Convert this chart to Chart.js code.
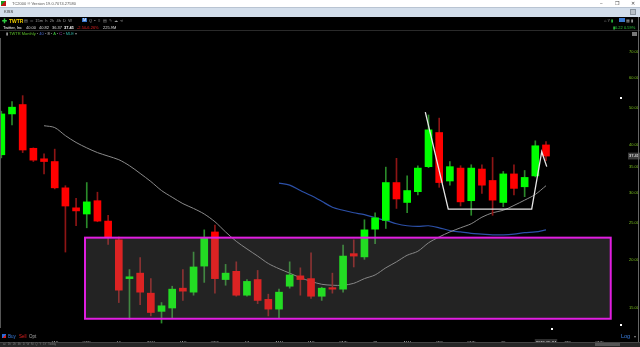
<!DOCTYPE html>
<html><head><meta charset="utf-8">
<script src="https://cdn.jsdelivr.net/npm/chart.js@4.4.1/dist/chart.umd.min.js"></script>
<style>
html,body{margin:0;padding:0;background:#000;}
#wrap{position:relative;width:640px;height:347px;overflow:hidden;background:#000;font-family:'Liberation Sans',Arial,sans-serif;}
#c{position:absolute;left:0;top:0;}
.t{position:absolute;white-space:nowrap;line-height:1;}
.b{position:absolute;}
</style></head><body>
<div id="wrap">
<canvas id="c" width="640" height="347"></canvas>
<!-- window title bar -->
<div class="b" style="left:0;top:0;width:640px;height:7px;background:#fff;"></div>
<div class="b" style="left:1px;top:1px;width:5px;height:5px;background:linear-gradient(135deg,#1a9a1a 50%,#c01818 50%);"></div>
<div class="t" style="left:12px;top:1.5px;font-size:4px;color:#555;">TC2000 ® Version 19.0.7074.27580</div>
<div class="t" style="left:600px;top:1px;font-size:5px;color:#444;">−</div>
<div class="t" style="left:615px;top:1px;font-size:5px;color:#444;">❐</div>
<div class="t" style="left:631px;top:1px;font-size:5px;color:#444;">✕</div>
<div class="b" style="left:0;top:7px;width:640px;height:10px;background:#d3deeb;border-top:1px solid #b9c4d2;box-sizing:border-box;"></div>
<div class="t" style="left:4px;top:10px;font-size:4px;color:#333;">KISS</div>
<div class="b" style="left:630px;top:9px;width:6px;height:6px;background:#b8c0c8;border:1px solid #8a949e;box-sizing:border-box;"></div>
<!-- toolbar row -->
<div class="t" style="left:2px;top:17.5px;font-size:6px;font-weight:bold;color:#2ecc40;">✚</div>
<div class="t" style="left:9px;top:18.5px;font-size:5px;font-weight:bold;color:#f2cf00;">TWTR</div>
<div class="t" style="left:24px;top:18.5px;font-size:4px;color:#9a9a9a;">▤ &nbsp;═ &nbsp;15m &nbsp;h &nbsp;2h &nbsp;4h &nbsp;D &nbsp;W</div>
<div class="t" style="left:82px;top:18px;font-size:4px;color:#fff;background:#3a78d0;padding:0 1px;">M</div>
<div class="t" style="left:89px;top:18.5px;font-size:4px;color:#9a9a9a;">Q &nbsp;▪ &nbsp;≡ &nbsp;▤ &nbsp;✎ &nbsp;☁ &nbsp;⋖</div>
<div class="t" style="left:604px;top:18.5px;font-size:4px;color:#888;">⌂ Y <span style="color:#2ecc40">▮</span></div>
<div class="b" style="left:619px;top:18px;width:6px;height:4px;background:#3a78d0;"></div>
<div class="t" style="left:626px;top:18.5px;font-size:4px;color:#aaa;">▦ ▮</div>
<!-- quote row -->
<div class="t" style="left:3px;top:25.5px;font-size:4px;color:#fff;">Twitter, Inc</div>
<div class="t" style="left:26px;top:25.5px;font-size:4px;color:#ddd;">40.00</div>
<div class="t" style="left:39px;top:25.5px;font-size:4px;color:#ddd;">40.82</div>
<div class="t" style="left:52px;top:25.5px;font-size:4px;color:#ddd;">36.37</div>
<div class="t" style="left:64px;top:25.5px;font-size:4px;color:#fff;font-weight:bold;">37.41</div>
<div class="t" style="left:77px;top:25.5px;font-size:4px;color:#e02020;">-2.50</div>
<div class="t" style="left:86px;top:25.5px;font-size:4px;color:#e02020;">-6.26%</div>
<div class="t" style="left:103px;top:25.5px;font-size:4px;color:#ddd;">225.9M</div>
<div class="t" style="left:613px;top:25.5px;font-size:4px;color:#2ecc40;">▮0.22 0.59%</div>
<div class="b" style="left:0;top:30px;width:640px;height:1px;background:#2a2a2a;"></div>
<!-- study row -->
<div class="t" style="left:6px;top:32px;font-size:4px;color:#5cc22a;"><span style="color:#aaa">▮</span> TWTR Monthly <span style="color:#888">•</span> <span style="color:#4a6fd8">40</span> <span style="color:#888">•</span> <span style="color:#ccc">8</span> <span style="color:#888">•</span> <span style="color:#3fcf3f">A</span> <span style="color:#888">•</span> <span style="color:#c040d0">C</span> <span style="color:#888">•</span> <span style="color:#2fb0a0">MLE</span> <span style="color:#888">▾</span></div>
<div class="b" style="left:632px;top:32px;width:5px;height:4px;background:#777;"></div>
<!-- frame lines -->
<div class="b" style="left:0;top:38px;width:1px;height:290px;background:#555;"></div>
<div class="b" style="left:638px;top:17px;width:1px;height:326px;background:#666;"></div>
<!-- markers -->
<div class="b" style="left:620px;top:97px;width:2px;height:2px;background:#fff;"></div>
<div class="b" style="left:620px;top:324px;width:2px;height:2px;background:#fff;"></div>
<div class="b" style="left:551px;top:328px;width:2px;height:2px;background:#fff;"></div>
<!-- bottom -->
<div class="b" style="left:2px;top:334px;width:4px;height:4px;background:linear-gradient(135deg,#2a6ad8 50%,#d02020 50%);"></div>
<div class="t" style="left:8px;top:334.5px;font-size:4.5px;color:#3a7ee0;">Buy</div>
<div class="t" style="left:19px;top:334.5px;font-size:4.5px;color:#e02020;">Sell</div>
<div class="t" style="left:29px;top:334.5px;font-size:4.5px;color:#aaa;">Opt</div>
<div class="t" style="left:621px;top:334px;font-size:5.5px;color:#3a7ee0;">Log</div>
<div class="t" style="left:634px;top:334.5px;font-size:4px;color:#888;">▾</div>
<div class="b" style="left:0;top:342px;width:640px;height:5px;background:#262626;border-top:1px solid #444;box-sizing:border-box;"></div>
<div class="t" style="left:3px;top:343px;font-size:3px;color:#777;">⊟ &nbsp;1h &nbsp;2h &nbsp;4h &nbsp;D &nbsp;W &nbsp;M &nbsp;Q &nbsp;Y &nbsp;5Y &nbsp;Today</div>
<div class="b" style="left:595px;top:343px;width:25px;height:3px;background:#555;"></div>
</div>
<script>
const months = ['2015-02','2015-03','2015-04','2015-05','2015-06','2015-07','2015-08','2015-09','2015-10','2015-11','2015-12',
'2016-01','2016-02','2016-03','2016-04','2016-05','2016-06','2016-07','2016-08','2016-09','2016-10','2016-11','2016-12',
'2017-01','2017-02','2017-03','2017-04','2017-05','2017-06','2017-07','2017-08','2017-09','2017-10','2017-11','2017-12',
'2018-01','2018-02','2018-03','2018-04','2018-05','2018-06','2018-07','2018-08','2018-09','2018-10','2018-11','2018-12',
'2019-01','2019-02','2019-03','2019-04','2019-05'];
const openP = [37.7,48.2,51.0,39.2,36.8,36.2,30.9,27.4,26.4,28.6,25.3,
22.6,17.9,18.5,16.4,14.7,15.0,16.9,16.5,19.3,23.7,17.8,18.7,
16.2,17.8,15.8,14.9,17.1,18.2,17.9,16.1,16.95,16.8,20.8,20.4,
24.1,25.4,31.9,28.3,30.2,35.1,43.1,32.2,34.8,28.6,34.6,32.3,
28.3,33.6,31.1,33.2,40.00];
const highP = [49.0,51.9,53.8,39.3,37.9,39.0,31.3,29.0,31.9,30.1,26.2,
23.0,18.9,20.3,17.9,15.5,17.1,18.9,21.0,24.0,24.7,19.5,19.8,
17.8,18.8,16.3,16.8,19.8,19.1,20.9,17.0,18.5,21.9,22.6,25.5,
26.6,35.0,36.9,33.2,35.3,47.9,47.0,36.2,35.3,35.5,35.5,37.1,
34.1,35.5,34.3,41.0,40.82];
const lowP = [37.0,45.1,38.2,36.2,33.6,30.7,21.0,24.6,24.3,25.2,22.0,
15.5,14.0,15.3,14.3,13.7,14.1,15.7,16.2,17.5,16.4,17.2,16.1,
16.1,15.4,14.3,14.1,16.9,16.2,15.9,15.7,16.4,16.5,19.2,20.1,
22.1,24.2,27.3,26.6,29.6,34.9,31.0,31.4,27.7,26.2,29.9,26.2,
27.6,29.6,29.3,33.0,36.37];
const closeP = [48.2,50.2,38.8,36.5,36.2,30.9,27.7,26.9,28.4,25.3,23.0,
16.7,18.1,16.5,14.6,15.2,16.8,16.6,19.2,22.9,17.9,18.5,16.2,
17.6,15.7,14.9,16.5,18.3,17.8,16.1,16.9,16.8,20.5,20.5,24.0,
25.8,31.9,28.9,30.4,34.8,43.8,31.9,35.1,28.4,34.8,31.4,28.7,
33.6,30.8,32.9,39.8,37.41];
const maShort = [null,null,null,null,44.9,44.4,42.3,40.6,39.3,38.2,37.4,
36.6,35.3,33.7,32.1,30.4,29.2,28.1,27.3,26.4,25.2,23.7,22.4,
21.4,20.5,19.6,19.0,18.5,18.0,17.6,17.3,17.2,17.2,17.4,17.9,
18.3,19.1,19.8,20.6,21.1,22.2,23.0,23.7,24.3,24.9,25.9,26.6,
27.0,27.8,28.7,29.7,31.3];
const maLong = [null,null,null,null,null,null,null,null,null,null,null,
null,null,null,null,null,null,null,null,null,null,null,null,
null,null,null,31.8,31.4,30.4,29.5,28.5,27.5,27.0,26.6,26.3,
25.8,25.4,24.9,24.6,24.5,24.6,24.3,23.9,23.7,23.5,23.4,23.3,
23.3,23.4,23.6,23.7,24.0];
const priceTicks = [15,20,25,30,35,40,50,60,70];
const lastClose = 37.41;
const quarterTicks = ['2015-07','2015-10','2016-01','2016-04','2016-07','2016-10','2017-01','2017-04','2017-07','2017-10','2018-01','2018-04','2018-07','2018-10','2019-01','2019-05','2019-07','2019-10'];
const quarterLabels = ['JAS','OND',['16','2016'],'AMJ','JAS','OND',['17','2017'],'AMJ','JAS','OND',['18','2018'],'AMJ','JAS','OND',['19','2019'],'2019-05-24','JAS','OND'];
// cup & handle drawing (time in months since Jan 2016, price)
const cupT = [28.7,30.85,38.66,39.6,40.07];
const cupP = [48.7,27.2,27.2,38.4,35.1];
// highlighted base zone
const zoneT = [-3.165,46.06];
const zoneP = [14.06,22.9];

function mIndex(s){const p=s.split('-').map(Number);return (p[0]-2016)*12+(p[1]-1);}
const tickVals = quarterTicks.map(mIndex);
const FONT = 'Liberation Sans';

const zonePlugin = {
  id:'zone',
  afterDatasetsDraw(chart){
    const {ctx, scales:{x,y}} = chart;
    const x0=x.getPixelForValue(zoneT[0]), x1=x.getPixelForValue(zoneT[1]);
    const y0=y.getPixelForValue(zoneP[1]), y1=y.getPixelForValue(zoneP[0]);
    ctx.save();
    ctx.fillStyle='rgba(127,127,127,0.275)';
    ctx.fillRect(x0,y0,x1-x0,y1-y0);
    ctx.strokeStyle='#e01ee0';
    ctx.lineWidth=2;
    ctx.strokeRect(x0,y0,x1-x0,y1-y0);
    ctx.restore();
  }
};

const up = i => closeP[i] >= openP[i];
new Chart(document.getElementById('c'), {
  data:{
    datasets:[
      {type:'line', order:0, data:cupT.map((t,i)=>({x:t,y:cupP[i]})), borderColor:'#e6e6e6', borderWidth:1.3, pointRadius:0, tension:0, clip:0},
      {type:'bar', order:1, data:months.map((m,i)=>({x:mIndex(m),y:[openP[i],closeP[i]]})),
        backgroundColor:months.map((m,i)=>up(i)?'#00ff00':'#ff0000'), barThickness:7, minBarLength:1.5, grouped:false, clip:0},
      {type:'bar', order:2, data:months.map((m,i)=>({x:mIndex(m),y:[lowP[i],highP[i]]})),
        backgroundColor:months.map((m,i)=>up(i)?'#2a8a2a':'#8e1515'), barThickness:1, grouped:false, clip:0},
      {type:'line', order:3, data:months.map((m,i)=>({x:mIndex(m),y:maShort[i]})).filter(p=>p.y!==null), borderColor:'#8a8a8a', borderWidth:1, pointRadius:0, tension:0.3, clip:0},
      {type:'line', order:4, data:months.map((m,i)=>({x:mIndex(m),y:maLong[i]})).filter(p=>p.y!==null), borderColor:'#2c50a8', borderWidth:1.2, pointRadius:0, tension:0.3, clip:0}
    ]
  },
  options:{
    responsive:false, animation:false, devicePixelRatio:1,
    layout:{padding:{top:38,left:0,right:0,bottom:0}},
    plugins:{legend:{display:false}, tooltip:{enabled:false}},
    scales:{
      x:{type:'linear', offset:false, min:-11.124, max:46.18, grid:{display:false, offset:false}, border:{display:false},
        afterBuildTicks:s=>{s.ticks=tickVals.map(v=>({value:v}));},
        afterFit:s=>{s.height=19; s.paddingLeft=0; s.paddingRight=0;},
        ticks:{autoSkip:false, maxRotation:0, minRotation:0, padding:4, font:{size:4,family:FONT},
          color:ctx=> (ctx.index===15?'#ffffff':'#bdbdbd'),
          showLabelBackdrop:ctx=>ctx.index===15, backdropColor:'#2e2e2e', backdropPadding:1,
          callback:(v)=>{const k=tickVals.indexOf(v);return k<0?'':quarterLabels[k];}}
      },
      y:{type:'logarithmic', position:'right', min:13.30, max:76.1, bounds:'data', grid:{display:false}, border:{display:false},
        afterBuildTicks:s=>{s.ticks=priceTicks.concat([lastClose]).map(v=>({value:v}));},
        afterFit:s=>{s.width=28; s.paddingTop=0; s.paddingBottom=0;},
        ticks:{autoSkip:false, padding:9, font:{size:4,family:FONT},
          color:ctx=>(ctx.tick && ctx.tick.value===lastClose?'#ffffff':'#7cc21e'),
          showLabelBackdrop:ctx=>(ctx.tick && ctx.tick.value===lastClose), backdropColor:'#3c3c3c', backdropPadding:1,
          callback:v=>Number(v).toFixed(2)}
      }
    }
  },
  plugins:[zonePlugin]
});
</script>
</body></html>
